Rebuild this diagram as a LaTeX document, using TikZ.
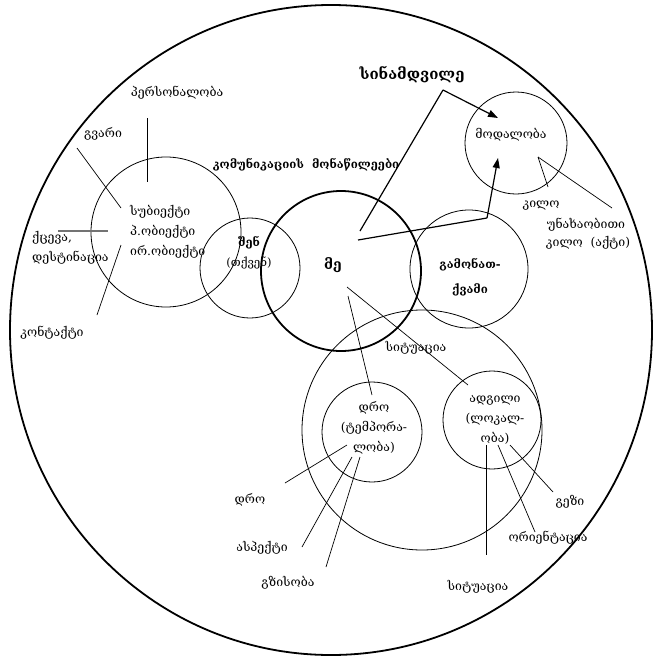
\documentclass[tikz,border=0pt]{standalone}
\usepackage{fontspec}
\setmainfont{DejaVu Serif}
\usetikzlibrary{arrows.meta}
\begin{document}
\begin{tikzpicture}[x=1pt,y=-1pt,
  ring/.style={circle, draw, inner sep=0pt, line width=0.8pt},
  thickring/.style={circle, draw, inner sep=0pt, line width=1.8pt},
  lbl/.style={inner sep=0pt, align=center, font=\fontsize{12.3}{20}\selectfont},
  boldlbl/.style={inner sep=0pt, align=center, font=\bfseries\fontsize{11.5}{25}\selectfont},
  link/.style={line width=0.7pt},
  pointer/.style={line width=1.2pt, -{Triangle[length=10pt,width=7pt]}}]
\useasboundingbox (0,0) rectangle (656,659);

% outer boundary
\draw[line width=1.8pt] (331,330) ellipse [x radius=321pt, y radius=325pt];

% circles
\node[ring, minimum size=150pt] (subj) at (166,232) {};
\node[ring, minimum size=100pt] (you)  at (250,268) {};
\node[thickring, minimum size=160pt] (me) at (341,271) {};
\node[ring, minimum size=118pt] (utt) at (469,269) {};
\node[ring, minimum size=102pt] (mod) at (516,143) {};
\node[ring, minimum size=240pt] (sit) at (422,430) {};
\node[ring, minimum size=100pt] (time) at (372,432) {};
\node[ring, minimum size=98pt] (place) at (492,420) {};

% labels
\node[font=\bfseries\fontsize{15}{17}\selectfont, inner sep=0pt] (real) at (412,75) {სინამდვილე};
\node[lbl] (modl) at (511,135) {მოდალობა};
\node[lbl] (mood) at (541,206) {კილო};
\node[lbl] (imp) at (586,225) {უნახაობითი};
\node[lbl] (act) at (588,243) {კილო \ (აქტი)};
\node[lbl] (pers) at (177,93) {პერსონალობა};
\node[lbl] (voice) at (103,134) {გვარი};
\node[lbl, align=left, anchor=west] (args) at (130,232) {სუბიექტი\\პ.ობიექტი\\ირ.ობიექტი};
\node[lbl, align=left, anchor=west] (vers) at (32,248) {ქცევა,\\დესტინაცია};
\node[lbl] (cont) at (52,333) {კონტაქტი};
\node[boldlbl] (part) at (306,165) {კომუნიკაციის \ მონაწილეები};
\node[lbl, font=\fontsize{11.5}{20}\selectfont] (youl) at (249,253) {\textbf{შენ}\\(თქვენ)};
\node[font=\bfseries\fontsize{14}{16}\selectfont, inner sep=0pt] (mel) at (333,265) {მე};
\node[boldlbl] (uttl) at (470,277) {გამონათ-\\ქვამი};
\node[lbl] (sitl) at (416,348) {სიტუაცია};
\node[lbl] (timel) at (374,428) {დრო\\(ტემპორა-\\ლობა)};
\node[lbl] (placel) at (495,420) {ადგილი\\(ლოკალ-\\ობა)};
\node[lbl] (tense) at (250,500) {დრო};
\node[lbl] (asp) at (262,548) {ასპექტი};
\node[lbl] (evid) at (288,583) {გზისობა};
\node[lbl] (dir) at (570,502) {გეზი};
\node[lbl] (orient) at (548,538) {ორიენტაცია};
\node[lbl] (sitb) at (478,587) {სიტუაცია};

% line ends
\coordinate (meA) at (360,231);
\coordinate (bend1) at (443,90);
\coordinate (modA) at (498,118);
\coordinate (meB) at (358,240);
\coordinate (bend2) at (487,218);
\coordinate (modB) at (498,158);
\coordinate (modC) at (538,157);
\coordinate (moodE) at (548,187);
\coordinate (actE) at (612,208);
\coordinate (persA) at (147,118);
\coordinate (persB) at (147,182);
\coordinate (voiceA) at (77,148);
\coordinate (voiceB) at (121,208);
\coordinate (versA) at (58,231);
\coordinate (versB) at (108,231);
\coordinate (contA) at (121,245);
\coordinate (contB) at (97,315);
\coordinate (meC) at (347,287);
\coordinate (placeA) at (468,385);
\coordinate (meD) at (348,296);
\coordinate (timeA) at (372,395);
\coordinate (tA) at (347,445);
\coordinate (tB) at (285,483);
\coordinate (aA) at (352,457);
\coordinate (aB) at (302,547);
\coordinate (gA) at (360,457);
\coordinate (gB) at (326,567);
\coordinate (sA) at (486,445);
\coordinate (sB) at (486,555);
\coordinate (oA) at (498,445);
\coordinate (oB) at (535,532);
\coordinate (dA) at (510,445);
\coordinate (dB) at (553,492);

% arrows to modality
\draw[line width=1.2pt] (meA) -- (bend1);
\draw[pointer] (bend1) -- (modA);
\draw[line width=1.2pt] (meB) -- (bend2);
\draw[pointer] (bend2) -- (modB);

% connectors
\draw[link] (modC) -- (moodE);
\draw[link] (modC) -- (actE);
\draw[link] (persA) -- (persB);
\draw[link] (voiceA) -- (voiceB);
\draw[link, draw=black!55, line width=1.2pt] (versA) -- (versB);
\draw[link] (contA) -- (contB);
\draw[link] (meC) -- (placeA);
\draw[link] (meD) -- (timeA);
\draw[link] (tA) -- (tB);
\draw[link] (aA) -- (aB);
\draw[link] (gA) -- (gB);
\draw[link] (sA) -- (sB);
\draw[link] (oA) -- (oB);
\draw[link] (dA) -- (dB);
\end{tikzpicture}
\end{document}
